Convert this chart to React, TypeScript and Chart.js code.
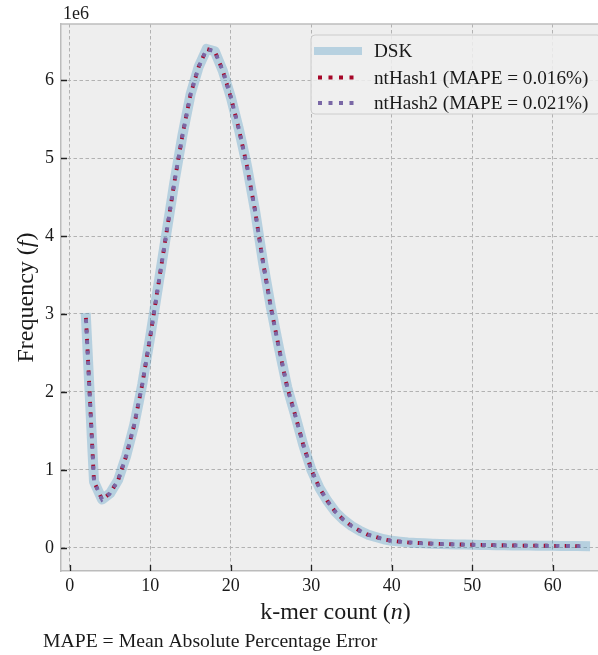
import React, { useEffect, useRef } from "react";
import { Chart, registerables } from "chart.js";

Chart.register(...registerables);

// ---- data (frequencies in units of 1e6) ----
const kmerCounts = [
  2, 3, 4, 5, 6, 7, 8, 9, 10, 11, 12, 13, 14, 15, 16, 17, 18, 19, 20, 21, 22,
  23, 24, 25, 26, 27, 28, 29, 30, 31, 32, 33, 34, 35, 36, 37, 38, 39, 40, 41,
  42, 43, 44, 45, 46, 47, 48, 49, 50, 51, 52, 53, 54, 55, 56, 57, 58, 59, 60,
  61, 62, 63, 64,
];
const dskFreq = [
  2.95, 0.85, 0.62, 0.7, 0.87, 1.18, 1.58, 2.1, 2.72, 3.38, 4.04, 4.7, 5.3,
  5.82, 6.17, 6.4, 6.37, 6.12, 5.78, 5.37, 4.9, 4.33, 3.66, 3.07, 2.55, 2.06,
  1.7, 1.32, 1.0, 0.77, 0.6, 0.46, 0.36, 0.28, 0.22, 0.17, 0.14, 0.11, 0.09,
  0.08, 0.07, 0.063, 0.058, 0.054, 0.05, 0.047, 0.044, 0.042, 0.04, 0.038,
  0.036, 0.034, 0.033, 0.031, 0.03, 0.029, 0.028, 0.027, 0.026, 0.025, 0.024,
  0.023, 0.022,
];
// ntHash estimates are indistinguishable from DSK at this resolution
const ntHash1Freq = dskFreq.slice();
const ntHash2Freq = dskFreq.slice();

const seriesLabels = ["DSK", "ntHash1 (MAPE = 0.016%)", "ntHash2 (MAPE = 0.021%)"];
const xTicks = [0, 10, 20, 30, 40, 50, 60];
const yTicks = [0, 1, 2, 3, 4, 5, 6];
const yOffsetLabel = "1e6";
const xTitleParts = [
  { t: "k-mer count (", it: false },
  { t: "n", it: true },
  { t: ")", it: false },
];
const yTitleParts = [
  { t: "Frequency (", it: false },
  { t: "f", it: true },
  { t: ")", it: false },
];
const captionText = "MAPE = Mean Absolute Percentage Error";

const SERIF = '"Liberation Serif", "DejaVu Serif", serif';
const TEXT = "#1a1a1a";
const DSK_COLOR = "rgba(52,138,189,0.3)";
const RED = "#A60628";
const PURPLE = "#7A68A6";
const DOT_DASH = [4, 6.5];

function drawMixed(ctx: CanvasRenderingContext2D, parts: { t: string; it: boolean }[], size: number, cx: number, cy: number) {
  const fontOf = (it: boolean) => `${it ? "italic " : ""}${size}px ${SERIF}`;
  let total = 0;
  const widths = parts.map((p) => {
    ctx.font = fontOf(p.it);
    const w = ctx.measureText(p.t).width;
    total += w;
    return w;
  });
  let x = cx - total / 2;
  ctx.textAlign = "left";
  ctx.textBaseline = "middle";
  parts.forEach((p, i) => {
    ctx.font = fontOf(p.it);
    ctx.fillText(p.t, x, cy);
    x += widths[i];
  });
}

const decorPlugin = {
  id: "decor",
  beforeDraw(chart: any) {
    const { ctx, chartArea: a } = chart;
    ctx.save();
    ctx.fillStyle = "#eeeeee";
    ctx.fillRect(a.left, a.top, a.right - a.left, a.bottom - a.top);
    ctx.restore();
  },
  afterDraw(chart: any) {
    const { ctx, chartArea: a, scales } = chart;
    ctx.save();
    // top spine
    ctx.strokeStyle = "#bcbcbc";
    ctx.lineWidth = 1.5;
    ctx.beginPath();
    ctx.moveTo(a.left, a.top);
    ctx.lineTo(a.right, a.top);
    ctx.stroke();

    // inward tick marks
    ctx.strokeStyle = "#222222";
    ctx.lineWidth = 1.3;
    ctx.beginPath();
    xTicks.forEach((v) => {
      const px = Math.round(scales.x.getPixelForValue(v)) + 0.5;
      ctx.moveTo(px, a.bottom);
      ctx.lineTo(px, a.bottom - 6);
    });
    yTicks.forEach((v) => {
      const py = Math.round(scales.y.getPixelForValue(v)) + 0.5;
      ctx.moveTo(a.left, py);
      ctx.lineTo(a.left + 6, py);
    });
    ctx.stroke();

    ctx.fillStyle = TEXT;
    // offset label
    ctx.font = `18px ${SERIF}`;
    ctx.textAlign = "left";
    ctx.textBaseline = "middle";
    ctx.fillText(yOffsetLabel, a.left + 2, 14.5);

    // x title
    drawMixed(ctx, xTitleParts, 24, (a.left + a.right) / 2, 613);

    // y title
    ctx.save();
    ctx.translate(27, (a.top + a.bottom) / 2);
    ctx.rotate(-Math.PI / 2);
    drawMixed(ctx, yTitleParts, 24, 0, 0);
    ctx.restore();

    // caption
    ctx.font = `19.7px ${SERIF}`;
    ctx.textAlign = "left";
    ctx.textBaseline = "middle";
    ctx.fillText(captionText, 43, 642);

    // legend
    const lx = 311, ly = 35, lw = 290, lh = 79, r = 4;
    ctx.beginPath();
    ctx.moveTo(lx + r, ly);
    ctx.lineTo(lx + lw - r, ly);
    ctx.arcTo(lx + lw, ly, lx + lw, ly + r, r);
    ctx.lineTo(lx + lw, ly + lh - r);
    ctx.arcTo(lx + lw, ly + lh, lx + lw - r, ly + lh, r);
    ctx.lineTo(lx + r, ly + lh);
    ctx.arcTo(lx, ly + lh, lx, ly + lh - r, r);
    ctx.lineTo(lx, ly + r);
    ctx.arcTo(lx, ly, lx + r, ly, r);
    ctx.closePath();
    ctx.fillStyle = "rgba(238,238,238,0.85)";
    ctx.fill();
    ctx.strokeStyle = "#cccccc";
    ctx.lineWidth = 1;
    ctx.stroke();

    const rows = [51, 77.5, 103];
    const hx0 = 318, hx1 = 358;
    // DSK handle
    ctx.strokeStyle = DSK_COLOR;
    ctx.lineWidth = 8;
    ctx.lineCap = "square";
    ctx.beginPath();
    ctx.moveTo(hx0, rows[0]);
    ctx.lineTo(hx1, rows[0]);
    ctx.stroke();
    // dotted handles
    [RED, PURPLE].forEach((c, i) => {
      ctx.strokeStyle = c;
      ctx.lineWidth = 3.8;
      ctx.lineCap = "butt";
      ctx.setLineDash(DOT_DASH);
      ctx.beginPath();
      ctx.moveTo(hx0, rows[i + 1]);
      ctx.lineTo(hx1, rows[i + 1]);
      ctx.stroke();
      ctx.setLineDash([]);
    });
    ctx.fillStyle = TEXT;
    ctx.font = `19.2px ${SERIF}`;
    ctx.textAlign = "left";
    ctx.textBaseline = "middle";
    seriesLabels.forEach((s, i) => ctx.fillText(s, 374, rows[i] + 1));
    ctx.restore();
  },
};

export default function App() {
  const ref = useRef<HTMLCanvasElement>(null);
  useEffect(() => {
    const canvas = ref.current!;
    const pts = (ys: number[]) => kmerCounts.map((x, i) => ({ x, y: ys[i] }));
    const chart = new Chart(canvas, {
      type: "line",
      data: {
        datasets: [
          {
            label: seriesLabels[0],
            data: pts(dskFreq),
            borderColor: DSK_COLOR,
            borderWidth: 10,
            borderCapStyle: "square",
            borderJoinStyle: "round",
            pointRadius: 0,
            tension: 0,
            order: 3,
          },
          {
            label: seriesLabels[1],
            data: pts(ntHash1Freq),
            borderColor: RED,
            borderWidth: 3.8,
            borderDash: DOT_DASH,
            borderCapStyle: "butt",
            pointRadius: 0,
            tension: 0,
            order: 2,
          },
          {
            label: seriesLabels[2],
            data: pts(ntHash2Freq),
            borderColor: PURPLE,
            borderWidth: 3.8,
            borderDash: DOT_DASH,
            borderDashOffset: -1.2,
            borderCapStyle: "butt",
            pointRadius: 0,
            tension: 0,
            order: 1,
          },
        ],
      } as any,
      options: {
        responsive: false,
        animation: false,
        devicePixelRatio: 1,
        events: [],
        layout: { padding: { left: 13, top: 24, right: 4, bottom: 0 } },
        plugins: { legend: { display: false }, tooltip: { enabled: false } },
        scales: {
          x: {
            type: "linear",
            min: -1.1,
            max: 67.1,
            afterFit: (s: any) => {
              s.height = 84;
            },
            afterBuildTicks: (s: any) => {
              s.ticks = xTicks.map((v) => ({ value: v }));
            },
            grid: { color: "#b2b2b2", lineWidth: 1, drawTicks: false },
            border: { color: "#bcbcbc", width: 1.5, dash: [3.5, 2.5] },
            ticks: {
              color: TEXT,
              font: { family: SERIF, size: 18 },
              padding: 4,
              maxRotation: 0,
              autoSkip: false,
              callback: (v: any) => String(v),
            },
          },
          y: {
            type: "linear",
            min: -0.297,
            max: 6.72,
            afterFit: (s: any) => {
              s.width = 48;
            },
            afterBuildTicks: (s: any) => {
              s.ticks = yTicks.map((v) => ({ value: v }));
            },
            grid: { color: "#b2b2b2", lineWidth: 1, drawTicks: false },
            border: { color: "#bcbcbc", width: 1.5, dash: [3.5, 2.5] },
            ticks: {
              color: TEXT,
              font: { family: SERIF, size: 18 },
              padding: 7,
              autoSkip: false,
              callback: (v: any) => String(v),
            },
          },
        },
      } as any,
      plugins: [decorPlugin],
    });
    return () => chart.destroy();
  }, []);
  return (
    <div style={{ position: "absolute", left: 0, top: 0, width: 598, height: 655, overflow: "hidden", background: "#ffffff" }}>
      <canvas ref={ref} width={614} height={655} style={{ display: "block" }} />
    </div>
  );
}
